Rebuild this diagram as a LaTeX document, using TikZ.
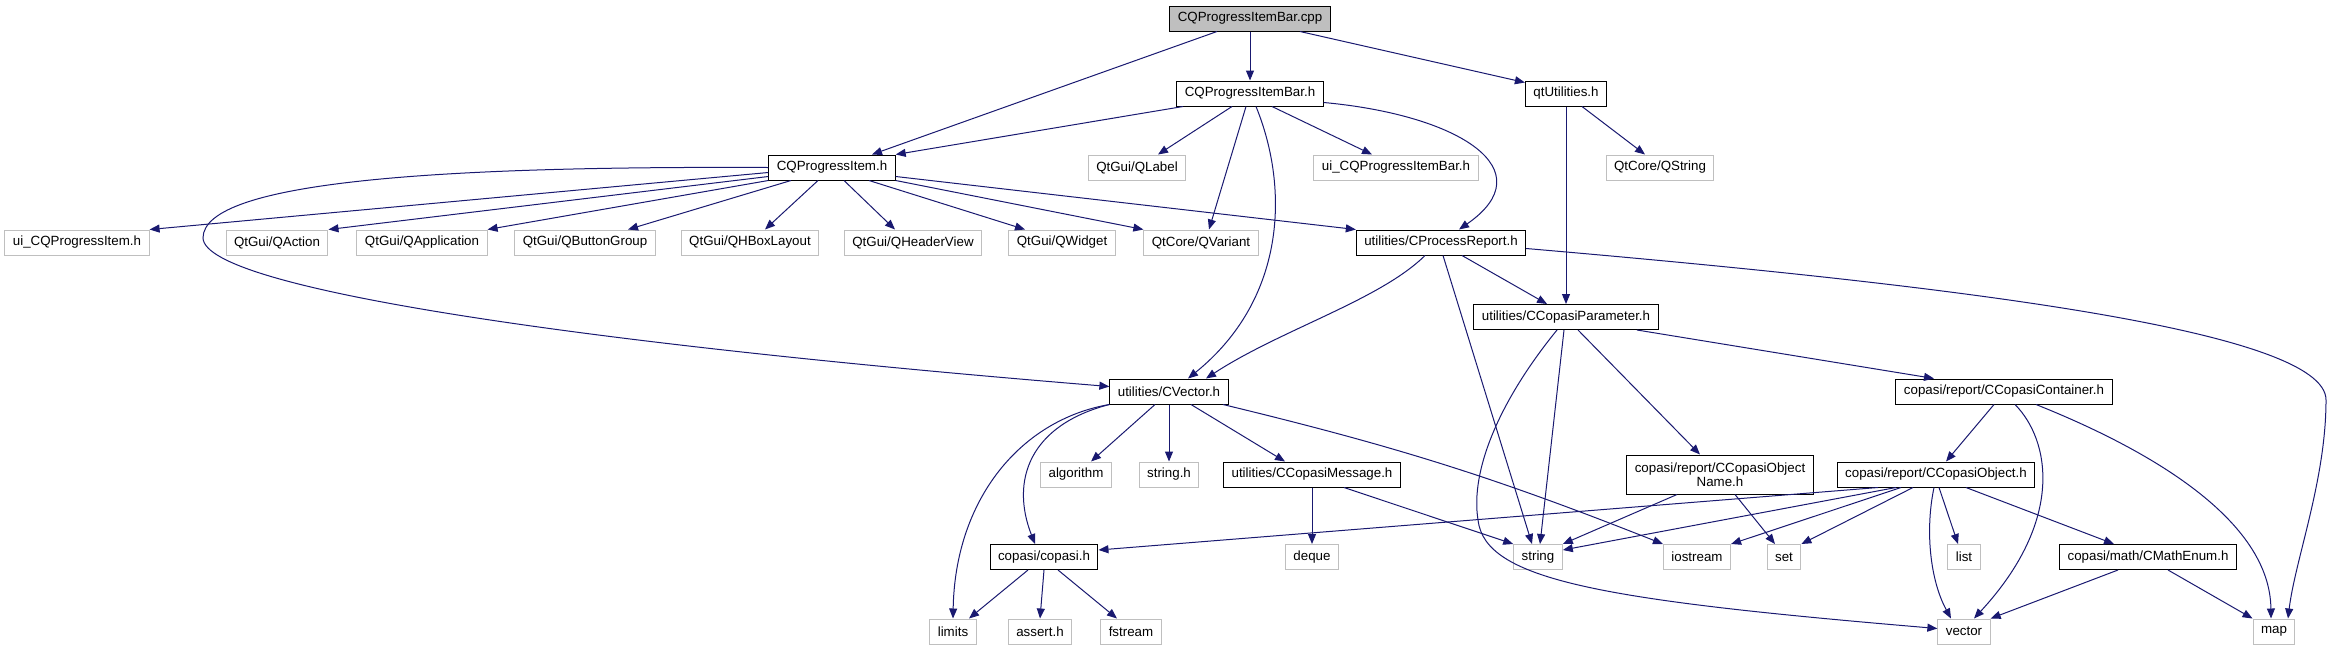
\documentclass[tikz,border=0pt]{standalone}
\usepackage{fontspec}
\setmainfont{Liberation Sans}
\usetikzlibrary{arrows.meta}
\definecolor{incblue}{HTML}{191970}
\definecolor{sysgrey}{HTML}{BFBFBF}
\definecolor{rootgrey}{HTML}{BFBFBF}
\begin{document}
\begin{tikzpicture}[
  x=0.75pt, y=-0.75pt,
  box/.style={draw, line width=0.75pt, inner xsep=6pt, inner ysep=0pt,
    minimum height=18.75pt, align=center,
    font=\fontsize{10}{10.3}\selectfont},
  file/.style={box, draw=black},
  sys/.style={box, draw=sysgrey},
  root/.style={box, draw=black, fill=rootgrey},
  inc/.style={-{Triangle[length=7.5pt, width=6pt]}, draw=incblue,
    line width=0.75pt},
]
  \useasboundingbox (0,0) rectangle (2331,651);

  % Source file
  \node[root] (cpp) at (1250,18.5) {CQProgressItemBar.cpp};

  % Row 1
  \node[file] (barh) at (1250,93.5) {CQProgressItemBar.h};
  \node[file] (qtu) at (1566,93.5) {qtUtilities.h};

  % Row 2
  \node[file] (item) at (832,167.5) {CQProgressItem.h};
  \node[sys] (qlabel) at (1137,167.5) {QtGui/QLabel};
  \node[sys] (uibar) at (1396,167.5) {ui\_CQProgressItemBar.h};
  \node[sys] (qstring) at (1660,167.5) {QtCore/QString};

  % Row 3
  \node[sys] (uiitem) at (77,242.5) {ui\_CQProgressItem.h};
  \node[sys] (qaction) at (277,242.5) {QtGui/QAction};
  \node[sys] (qapp) at (422,242.5) {QtGui/QApplication};
  \node[sys] (qbg) at (585,242.5) {QtGui/QButtonGroup};
  \node[sys] (qhbox) at (750,242.5) {QtGui/QHBoxLayout};
  \node[sys] (qhv) at (913,242.5) {QtGui/QHeaderView};
  \node[sys] (qwidget) at (1062,242.5) {QtGui/QWidget};
  \node[sys] (qvariant) at (1201,242.5) {QtCore/QVariant};
  \node[file] (cproc) at (1441,242.5) {utilities/CProcessReport.h};

  % Row 4
  \node[file] (cparam) at (1566,317) {utilities/CCopasiParameter.h};
  \node[file] (cvector) at (1169,391.5) {utilities/CVector.h};
  \node[file] (ccontainer) at (2004,391.5) {copasi/report/CCopasiContainer.h};

  % Row 5
  \node[sys] (stlalgorithm) at (1076,474.5) {algorithm};
  \node[sys] (stringh) at (1169,474.5) {string.h};
  \node[file] (cmessage) at (1312,474.5) {utilities/CCopasiMessage.h};
  \node[file, minimum height=29.25pt] (cobjname) at (1720,474.5)
    {copasi/report/CCopasiObject\\Name.h};
  \node[file] (cobject) at (1936,474.5) {copasi/report/CCopasiObject.h};

  % Row 6
  \node[file] (copasih) at (1044,557) {copasi/copasi.h};
  \node[sys] (stldeque) at (1312,557) {deque};
  \node[sys] (stlstring) at (1538,557) {string};
  \node[sys] (stliostream) at (1697,557) {iostream};
  \node[sys] (stlset) at (1784,557) {set};
  \node[sys] (stllist) at (1964,557) {list};
  \node[file] (cmathenum) at (2148,557) {copasi/math/CMathEnum.h};

  % Row 7
  \node[sys] (stllimits) at (953,631.5) {limits};
  \node[sys] (asserth) at (1040,631.5) {assert.h};
  \node[sys] (stlfstream) at (1131,631.5) {fstream};
  \node[sys] (stlvector) at (1964,631.5) {vector};
  \node[sys] (stlmap) at (2274,631.5) {map};

  % From the source file
  \draw[inc] ([shift={(-33,0)}]cpp.south) -- ([shift={(40,0)}]item.north);
  \draw[inc] (cpp.south) -- (barh.north);
  \draw[inc] ([shift={(50,0)}]cpp.south) -- ([shift={(0,-11)}]qtu.west);

  % CQProgressItemBar.h
  \draw[inc] ([shift={(-67,0)}]barh.south) -- (item.north east);
  \draw[inc] ([shift={(-18,0)}]barh.south) -- ([shift={(21,0)}]qlabel.north);
  \draw[inc] ([shift={(-4,0)}]barh.south) -- ([shift={(8,0)}]qvariant.north);
  \draw[inc] ([shift={(6,0)}]barh.south) .. controls (1290,190) and (1285,300)
    .. ([shift={(19,0)}]cvector.north);
  \draw[inc] ([shift={(22,0)}]barh.south) -- ([shift={(-24,0)}]uibar.north);
  \draw[inc] ([shift={(0,9)}]barh.east) .. controls (1460,115) and (1545,170)
    .. ([shift={(18,0)}]cproc.north);

  % qtUtilities.h
  \draw[inc] ([shift={(16,0)}]qtu.south) -- ([shift={(-15,0)}]qstring.north);
  \draw[inc] (qtu.south) -- (cparam.north);

  % CQProgressItem.h
  \draw[inc] ([shift={(0,5)}]item.west) -- (uiitem.north east);
  \draw[inc] ([shift={(0,9)}]item.west) -- (qaction.north east);
  \draw[inc] (item.south west) -- (qapp.north east);
  \draw[inc] ([shift={(-41,0)}]item.south) -- ([shift={(43,0)}]qbg.north);
  \draw[inc] ([shift={(-14,0)}]item.south) -- ([shift={(15,0)}]qhbox.north);
  \draw[inc] ([shift={(12,0)}]item.south) -- ([shift={(-18,0)}]qhv.north);
  \draw[inc] ([shift={(37,0)}]item.south) -- ([shift={(-37,0)}]qwidget.north);
  \draw[inc] (item.south east) -- (qvariant.north west);
  \draw[inc] ([shift={(0,9)}]item.east) -- (cproc.north west);
  \draw[inc] (item.west) .. controls (450,166) and (203,180) .. (203,238)
    .. controls (205,290) and (600,345) .. ([shift={(0,-5)}]cvector.west);

  % utilities/CProcessReport.h
  \draw[inc] ([shift={(-16,0)}]cproc.south) .. controls (1380,300) and (1280,330)
    .. ([shift={(37,0)}]cvector.north);
  \draw[inc] ([shift={(21,0)}]cproc.south) -- ([shift={(-19,0)}]cparam.north);
  \draw[inc] ([shift={(2,0)}]cproc.south) -- ([shift={(-6,0)}]stlstring.north);
  \draw[inc] ([shift={(0,6)}]cproc.east) .. controls (1950,285) and (2326,330)
    .. (2326,400) .. controls (2326,480) and (2295,560)
    .. ([shift={(14,0)}]stlmap.north);

  % utilities/CCopasiParameter.h
  \draw[inc] ([shift={(-2,0)}]cparam.south) -- ([shift={(2,0)}]stlstring.north);
  \draw[inc] ([shift={(-9,0)}]cparam.south) .. controls (1500,400) and (1470,470)
    .. (1478,520) .. controls (1485,580) and (1600,600)
    .. ([shift={(0,-3)}]stlvector.west);
  \draw[inc] ([shift={(12,0)}]cparam.south) -- ([shift={(-20,0)}]cobjname.north);
  \draw[inc] ([shift={(71,0)}]cparam.south) -- ([shift={(-70,0)}]ccontainer.north);

  % utilities/CVector.h
  \draw[inc] ([shift={(-14,0)}]cvector.south) -- ([shift={(15,0)}]stlalgorithm.north);
  \draw[inc] (cvector.south) -- (stringh.north);
  \draw[inc] ([shift={(22,0)}]cvector.south) -- ([shift={(-27,0)}]cmessage.north);
  \draw[inc] ([shift={(54,0)}]cvector.south) to[bend left=4] (stliostream.north west);
  \draw[inc] (cvector.south west) .. controls (1020,420) and (955,500)
    .. (stllimits.north);
  \draw[inc] (cvector.south west) .. controls (1030,425) and (1010,480)
    .. ([shift={(-9,0)}]copasih.north);

  % utilities/CCopasiMessage.h
  \draw[inc] (cmessage.south) -- (stldeque.north);
  \draw[inc] ([shift={(32,0)}]cmessage.south) -- (stlstring.north west);

  % copasi/copasi.h
  \draw[inc] ([shift={(-16,0)}]copasih.south) -- ([shift={(16,0)}]stllimits.north);
  \draw[inc] (copasih.south) -- (asserth.north);
  \draw[inc] ([shift={(14,0)}]copasih.south) -- ([shift={(-14,0)}]stlfstream.north);

  % copasi/report/CCopasiContainer.h
  \draw[inc] ([shift={(-10,0)}]ccontainer.south) -- ([shift={(10,0)}]cobject.north);
  \draw[inc] ([shift={(11,0)}]ccontainer.south) .. controls (2050,440) and (2065,520)
    .. ([shift={(10,0)}]stlvector.north);
  \draw[inc] ([shift={(32,0)}]ccontainer.south) .. controls (2150,450) and (2270,520)
    .. ([shift={(-3,0)}]stlmap.north);

  % copasi/report/CCopasiObjectName.h
  \draw[inc] ([shift={(-43,0)}]cobjname.south) -- (stlstring.north east);
  \draw[inc] ([shift={(15,0)}]cobjname.south) -- ([shift={(-9,0)}]stlset.north);

  % copasi/report/CCopasiObject.h
  \draw[inc] ([shift={(-58,0)}]cobject.south) -- ([shift={(0,-7)}]copasih.east);
  \draw[inc] ([shift={(-40,0)}]cobject.south) -- ([shift={(0,-7)}]stlstring.east);
  \draw[inc] ([shift={(-35,0)}]cobject.south) -- (stliostream.north east);
  \draw[inc] ([shift={(-23,0)}]cobject.south) -- (stlset.north east);
  \draw[inc] ([shift={(-2,0)}]cobject.south) .. controls (1925,530) and (1930,580)
    .. ([shift={(-13,0)}]stlvector.north);
  \draw[inc] ([shift={(3,0)}]cobject.south) -- ([shift={(-6,0)}]stllist.north);
  \draw[inc] ([shift={(30,0)}]cobject.south) -- ([shift={(-34,0)}]cmathenum.north);

  % copasi/math/CMathEnum.h
  \draw[inc] ([shift={(-30,0)}]cmathenum.south) -- (stlvector.north east);
  \draw[inc] ([shift={(20,0)}]cmathenum.south) -- (stlmap.north west);

\end{tikzpicture}
\end{document}
